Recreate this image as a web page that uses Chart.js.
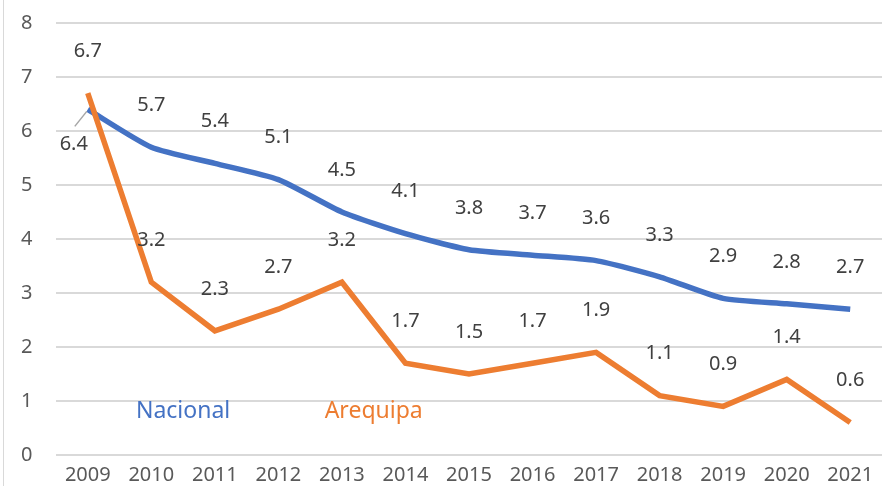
<!DOCTYPE html>
<html>
<head>
<meta charset="utf-8">
<script src="https://cdn.jsdelivr.net/npm/chart.js@4"></script>
<style>
  body { margin: 0; background: #fff; }
  .wrap { position: relative; width: 882px; height: 486px; }
  .wrap:before { content: ''; position: absolute; left: 3px; top: 0; bottom: 0; border-left: 1px solid #d9d9d9; }
</style>
</head>
<body>
<div class="wrap"><canvas id="chart" width="882" height="486"></canvas></div>
<script>
const years = ['2009', '2010', '2011', '2012', '2013', '2014', '2015', '2016', '2017', '2018', '2019', '2020', '2021'];
const nacional = [6.4, 5.7, 5.4, 5.1, 4.5, 4.1, 3.8, 3.7, 3.6, 3.3, 2.9, 2.8, 2.7];
const arequipa = [6.7, 3.2, 2.3, 2.7, 3.2, 1.7, 1.5, 1.7, 1.9, 1.1, 0.9, 1.4, 0.6];
const yMin = 0, yMax = 8, yStep = 1;

const FONT = '"Noto Sans", "Open Sans", sans-serif';

// data labels above points, plus the in-plot series names
const labelPlugin = {
  id: 'labels',
  afterDatasetsDraw(chart) {
    const { ctx, scales: { x, y } } = chart;
    ctx.save();
    ctx.font = '20px ' + FONT;
    ctx.fillStyle = '#404040';
    ctx.textAlign = 'center';
    ctx.textBaseline = 'middle';
    chart.data.datasets.forEach((ds, i) => {
      chart.getDatasetMeta(i).data.forEach((pt, j) => {
        let lx = pt.x, ly = pt.y - 42;
        if (ds.label === 'Nacional' && j === 0) {
          lx = pt.x - 14; ly = pt.y + 35;
          ctx.strokeStyle = '#a6a6a6';
          ctx.lineWidth = 1.5;
          ctx.beginPath();
          ctx.moveTo(lx + 1, ly - 18);
          ctx.lineTo(pt.x - 1, pt.y + 2);
          ctx.stroke();
        }
        ctx.fillText(ds.data[j].toFixed(1), lx, ly);
      });
    });
    ctx.font = '23px ' + FONT;
    const ny = y.getPixelForValue(0.8);
    ctx.fillStyle = '#4472C4';
    ctx.fillText('Nacional', (x.getPixelForValue(1) + x.getPixelForValue(2)) / 2, ny);
    ctx.fillStyle = '#ED7D31';
    ctx.fillText('Arequipa', (x.getPixelForValue(4) + x.getPixelForValue(5)) / 2, ny);
    ctx.restore();
  }
};

new Chart(document.getElementById('chart'), {
  type: 'line',
  data: {
    labels: years,
    datasets: [
      {
        label: 'Nacional',
        data: nacional,
        borderColor: '#4472C4',
        borderWidth: 5.5,
        tension: 0.2,
        pointRadius: 0,
        order: 1
      },
      {
        label: 'Arequipa',
        data: arequipa,
        borderColor: '#ED7D31',
        borderWidth: 5.5,
        tension: 0,
        pointRadius: 0,
        order: 0
      }
    ]
  },
  options: {
    responsive: false,
    animation: false,
    layout: { padding: { top: 23, right: 0, left: 21, bottom: 0 } },
    plugins: { legend: { display: false }, tooltip: { enabled: false } },
    scales: {
      x: {
        offset: true,
        grid: { display: false, drawTicks: false },
        border: { display: false },
        ticks: { color: '#595959', font: { family: FONT, size: 20 }, padding: 8, maxRotation: 0 },
        afterFit: s => { s.height = 31; }
      },
      y: {
        min: yMin, max: yMax,
        grid: { color: '#d9d9d9', lineWidth: 2, drawTicks: false },
        border: { display: false },
        ticks: { stepSize: yStep, color: '#595959', font: { family: FONT, size: 20 }, padding: 0, crossAlign: 'far' },
        afterFit: s => { s.width = 35; }
      }
    }
  },
  plugins: [labelPlugin]
});
</script>
</body>
</html>
